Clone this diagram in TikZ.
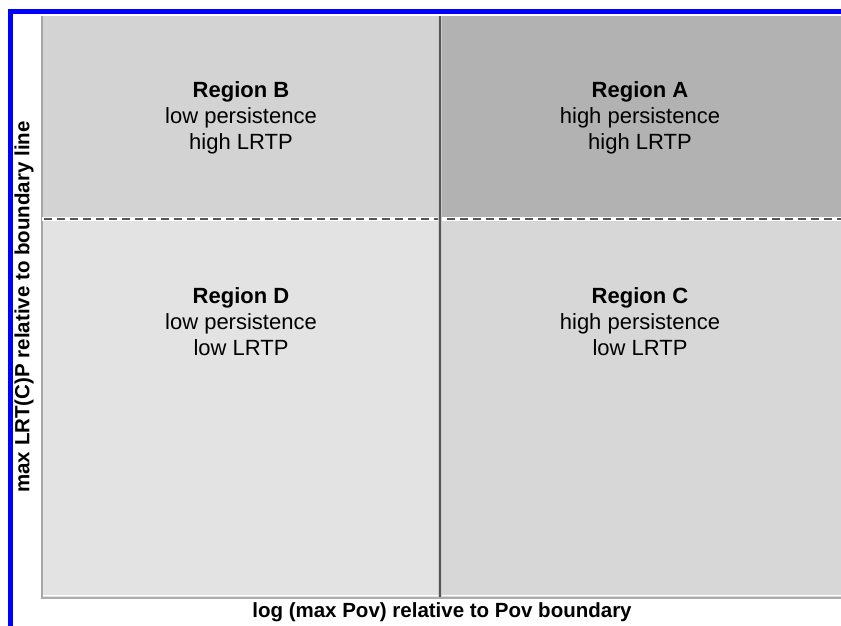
\documentclass[tikz,border=0pt]{standalone}
\usepackage{fontspec}
\setmainfont{Liberation Sans}
\definecolor{frameblue}{HTML}{0000FF}
\definecolor{regA}{HTML}{B2B2B2}
\definecolor{regB}{HTML}{D3D3D3}
\definecolor{regC}{HTML}{D7D7D7}
\definecolor{regD}{HTML}{E3E3E3}
\definecolor{divgray}{HTML}{555555}
\tikzset{
    regiontext/.style={anchor=north, inner sep=0pt, align=center, font=\fontsize{22}{26}\selectfont},
    axislabel/.style={inner sep=0pt, font=\fontsize{20.5}{24}\selectfont\bfseries}
}

\begin{document}
\begin{tikzpicture}[x=1pt, y=1pt]
    \useasboundingbox (0,0) rectangle (841,626);
    \fill[white] (0,0) rectangle (841,626);
    \fill[regB] (42,407) rectangle (440,610);
    \fill[regA] (440,407) rectangle (841,610);
    \fill[regD] (42,29) rectangle (440,407);
    \fill[regC] (440,29) rectangle (841,407);
    \draw[gray!70, line width=1.5pt] (42,29) -- (42,610);
    \draw[gray!65, line width=2pt] (41,28) -- (841,28);
    \draw[white, line width=1pt] (43,30.5) -- (841,30.5);
    \draw[white, line width=4pt] (42,407) -- (841,407);
    \draw[divgray, line width=2.2pt, dash pattern=on 8pt off 5pt] (44,407) -- (841,407);
    \draw[gray!40, line width=4pt] (440,29) -- (440,610);
    \draw[divgray, line width=1.5pt] (440,29) -- (440,610);
    \draw[frameblue, line width=5pt] (10.5,0) -- (10.5,617);
    \draw[frameblue, line width=5pt] (8,614.5) -- (841,614.5);
    \node[regiontext] (regionB) at (241,545) {\textbf{Region B}\\low persistence\\high LRTP};
    \node[regiontext] (regionA) at (640,545) {\textbf{Region A}\\high persistence\\high LRTP};
    \node[regiontext] (regionD) at (241,339) {\textbf{Region D}\\low persistence\\low LRTP};
    \node[regiontext] (regionC) at (640,339) {\textbf{Region C}\\high persistence\\low LRTP};
    \node[axislabel] (xlabel) at (442,14) {log (max Pov) relative to Pov boundary};
    \node[axislabel, rotate=90] (ylabel) at (24,319) {max LRT(C)P relative to boundary line};
\end{tikzpicture}
\end{document}
